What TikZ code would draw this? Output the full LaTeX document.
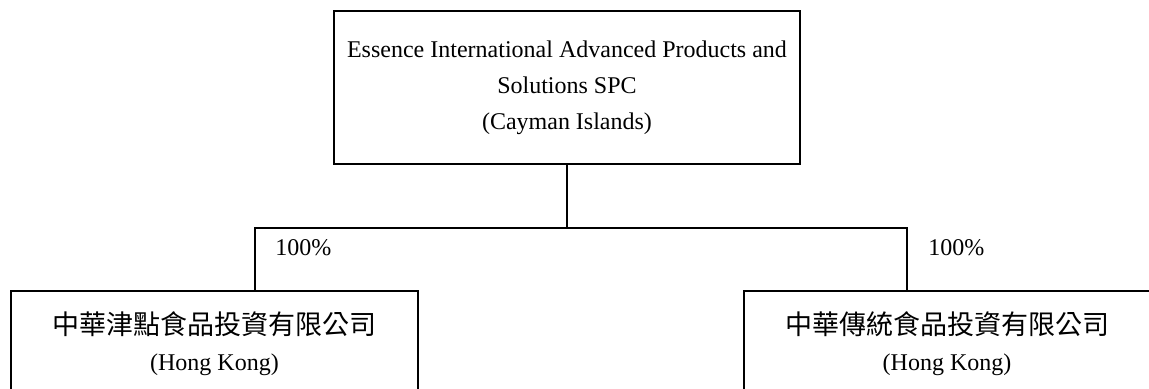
\documentclass[tikz,border=0pt]{standalone}
\usepackage{fontspec}
\setmainfont{Liberation Serif}
\newfontfamily\cjk{Noto Sans CJK TC}
\usetikzlibrary{positioning}

\tikzset{
  entity/.style={draw, line width=1.2pt, align=center, inner sep=0pt,
    font=\fontsize{12}{18}\selectfont},
  share/.style={anchor=west, inner sep=0pt, font=\fontsize{12}{14}\selectfont},
  link/.style={line width=1.2pt}
}

\begin{document}
\begin{tikzpicture}[x=0.5pt,y=0.5pt]
\useasboundingbox (0,0) rectangle (1149,388);
\clip (0,0) rectangle (1149,388);
% parent
\node[entity, minimum width=233pt, minimum height=76.5pt] (parent) at (567,300.5)
  {Essence International Advanced Products and\\Solutions SPC\\(Cayman Islands)};
% subsidiaries
\node[entity, minimum width=203.5pt, minimum height=52.5pt] (subA) at (214.5,44.5)
  {{\cjk\fontsize{13.5}{18}\selectfont 中華津點食品投資有限公司}\\(Hong Kong)};
\node[entity, minimum width=203pt, minimum height=52.5pt] (subB) at (947,44.5)
  {{\cjk\fontsize{13.5}{18}\selectfont 中華傳統食品投資有限公司}\\(Hong Kong)};
% ownership lines
\coordinate (forkA) at (255,160);
\coordinate (forkB) at (907,160);
\draw[link] (parent.south) -- (parent.south |- forkA);
\draw[link] (subA.north -| forkA) -- (forkA) -- (forkB) -- (subB.north -| forkB);
\node[share] (pctA) at (275,140) {100\%};
\node[share] (pctB) at (928,140) {100\%};
\end{tikzpicture}
\end{document}
